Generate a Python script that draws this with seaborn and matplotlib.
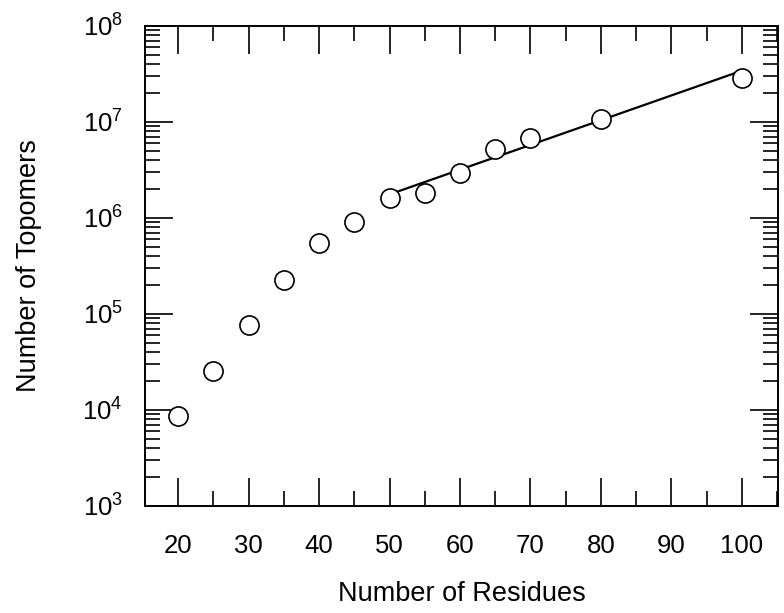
import numpy as np
import pandas as pd
import matplotlib
matplotlib.use("Agg")
import matplotlib.pyplot as plt
from matplotlib.ticker import MultipleLocator, LogLocator, NullFormatter
import seaborn as sns

# values
residues = [20, 25, 30, 35, 40, 45, 50, 55, 60, 65, 70, 80, 100]
topomers = [8.7e3, 2.55e4, 7.7e4, 2.26e5, 5.5e5, 9.1e5, 1.6e6,
            1.82e6, 2.94e6, 5.2e6, 6.8e6, 1.07e7, 2.87e7]
# straight-line fit drawn through the larger chains
fit_x = [50, 100]
fit_y = [1.75e6, 3.4e7]
x_ticks = [20, 30, 40, 50, 60, 70, 80, 90, 100]

sns.set_theme(style="ticks")
plt.rcParams['font.family'] = ['Liberation Sans', 'DejaVu Sans']
plt.rcParams['mathtext.fontset'] = 'custom'
plt.rcParams['mathtext.rm'] = 'Liberation Sans'
plt.rcParams['mathtext.it'] = 'Liberation Sans'
plt.rcParams['text.color'] = 'black'
plt.rcParams['axes.labelcolor'] = 'black'
plt.rcParams['xtick.color'] = 'black'
plt.rcParams['ytick.color'] = 'black'

df = pd.DataFrame({'residues': residues, 'topomers': topomers})
fit = pd.DataFrame({'residues': fit_x, 'topomers': fit_y})

fig = plt.figure(figsize=(7.84, 6.13), dpi=100)
ax = fig.add_axes([0.185, 0.175, 0.807, 0.783])

sns.lineplot(data=fit, x='residues', y='topomers', color='black',
             linewidth=1.6, ax=ax)
sns.scatterplot(data=df, x='residues', y='topomers', marker='o', s=190,
                facecolor='white', edgecolor='black', linewidth=1.2,
                zorder=3, ax=ax)

ax.set_yscale('log')
ax.set_xlim(15.3, 105.1)
ax.set_ylim(1e3, 1e8)

ax.set_xticks(x_ticks)
ax.xaxis.set_minor_locator(MultipleLocator(5))
ax.yaxis.set_major_locator(LogLocator(base=10, numticks=10))
ax.yaxis.set_minor_locator(LogLocator(base=10, subs=np.arange(2, 10), numticks=20))
ax.yaxis.set_minor_formatter(NullFormatter())

ax.tick_params(which='both', direction='in', top=True, right=True,
               color='black', labelcolor='black', width=1.2)
ax.tick_params(which='major', length=20)
ax.tick_params(which='minor', length=10.5)
ax.tick_params(axis='x', which='major', labelsize=18.5, pad=20)
ax.tick_params(axis='y', which='major', labelsize=18.5, pad=16)

for side in ['left', 'right', 'top', 'bottom']:
    ax.spines[side].set_color('black')
    ax.spines[side].set_linewidth(1.4)

ax.set_xlabel('Number of Residues', fontsize=19.5, labelpad=17)
ax.set_ylabel('Number of Topomers', fontsize=19.5, labelpad=29)

fig.savefig('out.png', dpi=100, facecolor='white')
